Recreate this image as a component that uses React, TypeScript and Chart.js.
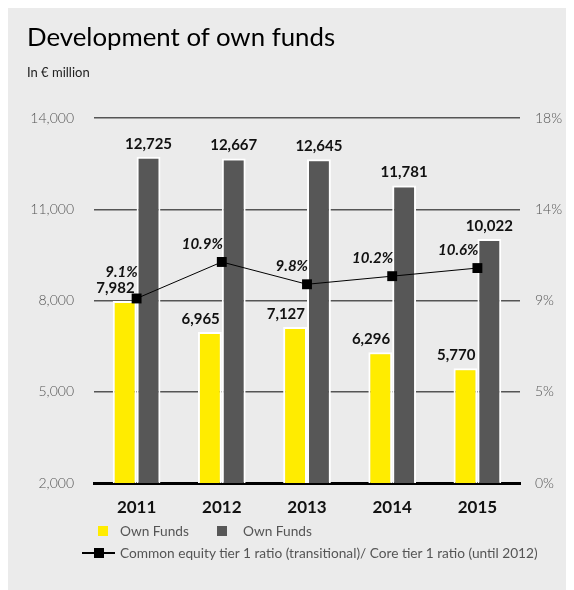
import React, { useEffect, useRef } from "react";
import { Chart, registerables } from "chart.js";

Chart.register(...registerables);

const years = ["2011", "2012", "2013", "2014", "2015"];
const ownFundsYellow = [7982, 6965, 7127, 6296, 5770];
const ownFundsGrey = [12725, 12667, 12645, 11781, 10022];
const cet1Ratio = [9.1, 10.9, 9.8, 10.2, 10.6];

const YELLOW = "#ffec00";
const GREY = "#575757";
const BG = "#ebebeb";
const FONT = "Lato, 'Open Sans', sans-serif";

const fmt = (v: number) => v.toLocaleString("en-US");

const labelPlugin = {
  id: "valueLabels",
  afterDatasetsDraw(chart: any) {
    const ctx = chart.ctx;
    ctx.save();
    ctx.textBaseline = "middle";
    ctx.fillStyle = "#111";
    const yMeta = chart.getDatasetMeta(0);
    const gMeta = chart.getDatasetMeta(1);
    const lMeta = chart.getDatasetMeta(2);
    ctx.font = `bold 15px ${FONT}`;
    const yellowLabelY: number[] = [];
    yMeta.data.forEach((bar: any, i: number) => {
      const x = bar.x + bar.width / 2 - 2;
      const y = bar.y - 13;
      yellowLabelY.push(y);
      ctx.textAlign = "right";
      ctx.fillText(fmt(ownFundsYellow[i]), x, y);
    });
    gMeta.data.forEach((bar: any, i: number) => {
      ctx.textAlign = "center";
      ctx.fillText(fmt(ownFundsGrey[i]), bar.x, bar.y - 13);
    });
    ctx.font = `italic bold 15px ${FONT}`;
    lMeta.data.forEach((pt: any, i: number) => {
      let y = pt.y - 18;
      if (Math.abs(y - yellowLabelY[i]) < 14) y = yellowLabelY[i] - 16;
      ctx.textAlign = "right";
      ctx.fillText(cet1Ratio[i].toFixed(1) + "%", pt.x + 1, y);
    });
    ctx.restore();
  },
};

export default function App() {
  const ref = useRef<HTMLCanvasElement>(null);
  useEffect(() => {
    if (!ref.current) return;
    const chart = new Chart(ref.current, {
      type: "bar",
      data: {
        labels: years,
        datasets: [
          {
            label: "Own Funds",
            data: ownFundsYellow,
            backgroundColor: YELLOW,
            borderColor: "#ffffff",
            borderWidth: 2,
            borderSkipped: "bottom",
            categoryPercentage: 0.56,
            barPercentage: 1.0,
            yAxisID: "y",
            order: 1,
          },
          {
            label: "Own Funds",
            data: ownFundsGrey,
            backgroundColor: GREY,
            borderColor: "#ffffff",
            borderWidth: 2,
            borderSkipped: "bottom",
            categoryPercentage: 0.56,
            barPercentage: 1.0,
            yAxisID: "y",
            order: 1,
          },
          {
            type: "line",
            label: "Common equity tier 1 ratio (transitional)/ Core tier 1 ratio (until 2012)",
            data: cet1Ratio,
            borderColor: "#000",
            borderWidth: 1,
            backgroundColor: "#000",
            pointStyle: "rect",
            pointRadius: 7,
            pointBackgroundColor: "#000",
            pointBorderWidth: 0,
            yAxisID: "y1",
            order: 0,
          } as any,
        ],
      },
      options: {
        responsive: false,
        animation: false,
        layout: { padding: { top: 110, left: 0, right: 0, bottom: 0 } },
        plugins: {
          legend: { display: false },
          tooltip: { enabled: false },
          title: { display: false },
        },
        scales: {
          x: {
            z: 1,
            grid: { display: false, drawTicks: false },
            border: { display: true, color: "#000", width: 3 },
            ticks: {
              padding: 14,
              color: "#111",
              font: { family: FONT, size: 17, weight: "bold" },
            },
            afterFit: (s: any) => {
              s.height = 107;
            },
          },
          y: {
            position: "left",
            min: 2000,
            max: 14000,
            grid: {
              color: (c: any) => (c.tick && c.tick.value === 2000 ? "rgba(0,0,0,0)" : "#555"),
              lineWidth: 1.5,
              drawTicks: false,
            },
            border: { display: false },
            ticks: {
              stepSize: 3000,
              padding: 20,
              color: "#555",
              font: { family: FONT, size: 14, weight: "300" },
              callback: (v: any) => fmt(Number(v)),
            },
            afterFit: (s: any) => {
              s.width = 86;
            },
          },
          y1: {
            position: "right",
            min: 0,
            max: 18,
            grid: { display: false, drawTicks: false },
            border: { display: false },
            ticks: {
              stepSize: 4.5,
              padding: 15,
              color: "#555",
              font: { family: FONT, size: 14, weight: "300" },
              callback: (v: any) => Math.round(Number(v)) + "%",
            },
            afterFit: (s: any) => {
              s.width = 54;
            },
          },
        },
      } as any,
      plugins: [labelPlugin],
    });
    return () => chart.destroy();
  }, []);

  const legendText: React.CSSProperties = {
    position: "absolute",
    fontFamily: FONT,
    fontSize: 13.7,
    color: "#555",
    lineHeight: "16px",
    whiteSpace: "nowrap",
  };

  return (
    <div style={{ position: "relative", width: 566, height: 582, background: BG, overflow: "hidden" }}>
      <canvas ref={ref} width={566} height={582} style={{ position: "absolute", left: 0, top: 0 }} />
      <div
        style={{
          position: "absolute",
          left: 19,
          top: 13,
          fontFamily: FONT,
          fontSize: 25.8,
          lineHeight: "30px",
          color: "#000",
          whiteSpace: "nowrap",
        }}
      >
        Development of own funds
      </div>
      <div
        style={{
          position: "absolute",
          left: 19,
          top: 56,
          fontFamily: FONT,
          fontSize: 13,
          lineHeight: "16px",
          color: "#222",
          whiteSpace: "nowrap",
        }}
      >
        In € million
      </div>
      <div style={{ position: "absolute", left: 90, top: 518, width: 10, height: 10, background: YELLOW }} />
      <div style={{ ...legendText, left: 112, top: 515 }}>Own Funds</div>
      <div style={{ position: "absolute", left: 209, top: 518, width: 10, height: 10, background: GREY }} />
      <div style={{ ...legendText, left: 235, top: 515 }}>Own Funds</div>
      <div style={{ position: "absolute", left: 74, top: 544, width: 33, height: 2, background: "#000" }} />
      <div style={{ position: "absolute", left: 86, top: 540, width: 10, height: 10, background: "#000" }} />
      <div style={{ ...legendText, left: 112, top: 537 }}>
        Common equity tier 1 ratio (transitional)/ Core tier 1 ratio (until 2012)
      </div>
    </div>
  );
}
